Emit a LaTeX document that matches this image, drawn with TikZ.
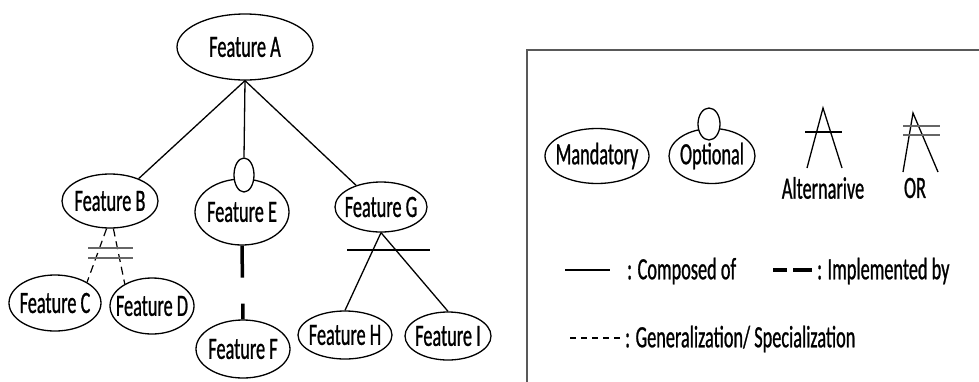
\documentclass[tikz,border=0pt]{standalone}
\usepackage{fontspec}
\setmainfont{Carlito}[FakeStretch=0.59,FakeBold=0.8]
\usetikzlibrary{shapes.geometric}
\newcommand\zw[1]{\makebox[0pt]{#1}}
\begin{document}
\begin{tikzpicture}[x=1pt,y=-1pt,
  feat/.style={ellipse,draw,line width=1.3pt,inner sep=0pt,fill=white,font=\fontsize{31}{33}\selectfont},
  optc/.style={ellipse,draw,line width=1.3pt,inner sep=0pt,fill=white},
  conn/.style={line width=1.3pt},
  gen/.style={line width=1.2pt,dash pattern=on 8pt off 5pt},
  impl/.style={line width=3.5pt},
  bar/.style={line width=2pt,black!60},
  lbl/.style={font=\fontsize{31}{33}\selectfont,inner sep=0pt}]
\useasboundingbox (0,0) rectangle (979,381);
% features
\node[feat,minimum width=136pt,minimum height=66pt] (a) at (245,47) {\zw{Feature A}};
\node[feat,minimum width=96pt,minimum height=54pt] (b) at (110,201) {\zw{Feature B}};
\node[feat,minimum width=92pt,minimum height=56pt] (c) at (55,303) {\zw{Feature C}};
\node[feat,minimum width=84pt,minimum height=56pt] (d) at (152,306) {\zw{Feature D}};
\node[feat,minimum width=94pt,minimum height=66pt] (e) at (242,212) {\zw{Feature E}};
\node[optc,minimum width=20pt,minimum height=34pt] (eo) at (244,175) {};
\node[feat,minimum width=94pt,minimum height=58pt] (f) at (243,349) {\zw{Feature F}};
\node[feat,minimum width=92pt,minimum height=50pt] (g) at (381,207) {\zw{Feature G}};
\node[feat,minimum width=94pt,minimum height=48pt] (h) at (345,335) {\zw{Feature H}};
\node[feat,minimum width=86pt,minimum height=48pt] (i) at (448,336) {\zw{Feature I}};
% connectors
\draw[conn] (a.south) -- (b.38);
\draw[conn] (a.south) -- (eo.north);
\draw[conn] (a.south) -- (g.139);
\draw[gen] (b.263) -- (c.33);
\draw[gen] (b.277) -- (d.141);
\draw[bar] (88,248) -- (133,248);
\draw[bar] (88,258) -- (133,258);
\draw[impl,dash pattern=on 32pt off 26pt on 40pt] (e.south) -- (f.north);
\draw[conn] (g.south) -- (h.north);
\draw[conn] (g.south) -- (i.north);
\draw[line width=2pt] (347,250) -- (430,250);
% legend
\draw[line width=1.6pt,black!65] (980,50) -- (527,50) -- (527,382);
\node[feat,minimum width=104pt,minimum height=55pt] (mand) at (597,156) {\zw{Mandatory}};
\node[feat,minimum width=86pt,minimum height=55pt] (opt) at (712,156) {\zw{Optional}};
\node[optc,minimum width=22pt,minimum height=32pt] (optc) at (709,124) {};
\coordinate (alta) at (823,108);
\draw[conn] (807,168) -- (alta) -- (842,168);
\draw[line width=2pt] (805,132) -- (842,132);
\node[lbl] (altl) at (823,188) {Alternarive};
\coordinate (ora) at (913,113);
\draw[conn] (903,172) -- (ora) -- (938,172);
\draw[bar] (903,126) -- (940,126);
\draw[bar] (903,135) -- (940,135);
\node[lbl] (orl) at (915,188) {OR};
\draw[conn] (565,270) -- (610,270);
\node[lbl,anchor=west] (comp) at (627,271) {: Composed of};
\draw[impl,dash pattern=on 14pt off 6pt on 19pt] (773,270) -- (812,270);
\node[lbl,anchor=west] (implt) at (817,271) {: Implemented by};
\draw[line width=1.1pt,dash pattern=on 6pt off 5pt] (570,338) -- (621,338);
\node[lbl,anchor=west] (genl) at (625,339) {: Generalization/ Specialization};
\end{tikzpicture}
\end{document}
